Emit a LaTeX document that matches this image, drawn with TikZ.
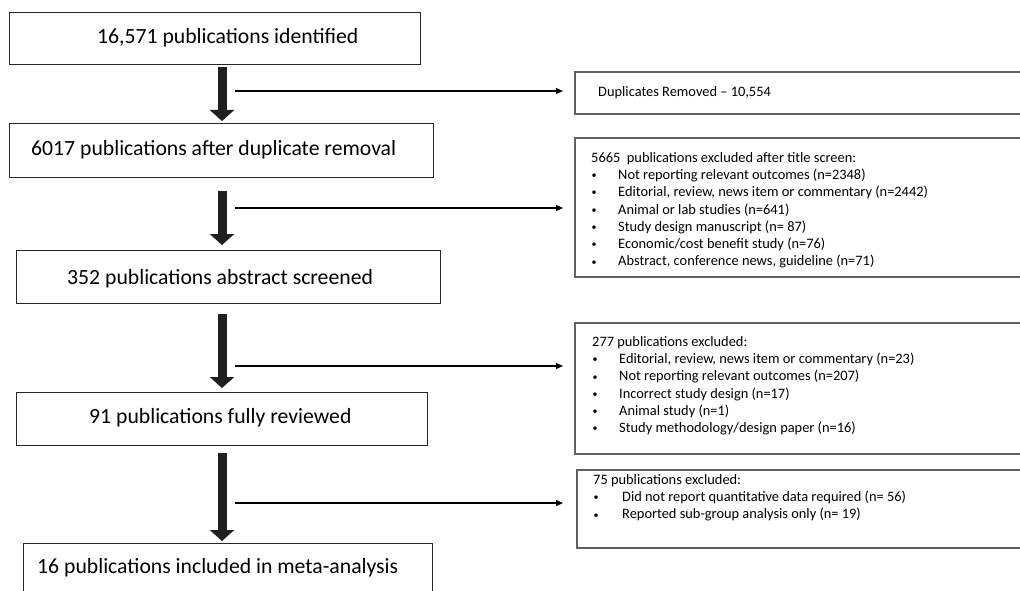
\documentclass[tikz,border=0pt]{standalone}
\usepackage{fontspec}
\setmainfont{Carlito}
\usetikzlibrary{arrows.meta}
\begin{document}
\begin{tikzpicture}[x=1pt,y=-1pt,
 mainbox/.style={draw=black!85, line width=1pt, rectangle, inner sep=0pt, anchor=north west},
 sidebox/.style={draw=black!62, line width=1.6pt, rectangle, inner sep=0pt, anchor=north west},
 maintext/.style={anchor=west, inner sep=0pt, font=\fontsize{21.7}{26}\selectfont},
 sidetext/.style={anchor=north west, inner sep=0pt, align=left, font=\fontsize{14.4}{17.3}\selectfont},
 bigarrow/.style={draw=black!88, line width=9pt, -{Triangle[width=24pt,length=11pt]}},
 thinarrow/.style={draw=black, line width=1.1pt, -{Triangle[width=6pt,length=7pt]}}
]
\clip (0,0) rectangle (1020,591);
\fill[white] (0,0) rectangle (1020,591);
\newcommand{\bl}[1]{\makebox[27pt][l]{\hspace{0.5pt}\raisebox{0.8pt}{\scalebox{0.7}{\textbullet}}}#1}
% main boxes
\node[mainbox, minimum width=411pt, minimum height=52pt] (b1) at (9,12) {};
\node[mainbox, minimum width=424pt, minimum height=54pt] (b2) at (9,123) {};
\node[mainbox, minimum width=424pt, minimum height=53pt] (b3) at (16,250) {};
\node[mainbox, minimum width=411pt, minimum height=53pt] (b4) at (16,392) {};
\node[mainbox, minimum width=409pt, minimum height=70pt] (b5) at (23,543) {};
\node[maintext] (t1) at (97,38) {16,571 publications identified};
\node[maintext] (t2) at (31,150) {6017 publications after duplicate removal};
\node[maintext] (t3) at (67,279) {352 publications abstract screened};
\node[maintext] (t4) at (89,418) {91 publications fully reviewed};
\node[maintext] (t5) at (37,568) {16 publications included in meta-analysis};
% side boxes
\node[sidebox, minimum width=460pt, minimum height=42pt] (s1) at (574,71) {};
\node[sidebox, minimum width=460pt, minimum height=139pt] (s2) at (574,137) {};
\node[sidebox, minimum width=460pt, minimum height=131pt] (s3) at (574,322) {};
\node[sidebox, minimum width=460pt, minimum height=78pt] (s4) at (576,469) {};
\node[sidetext, anchor=west] (u1) at (598,93) {Duplicates Removed -- 10,554};
\node[sidetext] (u2) at (591,152) {5665~ publications excluded after title screen:\\
\bl{Not reporting relevant outcomes (n=2348)}\\
\bl{Editorial, review, news item or commentary (n=2442)}\\
\bl{Animal or lab studies (n=641)}\\
\bl{Study design manuscript (n= 87)}\\
\bl{Economic/cost benefit study (n=76)}\\
\bl{Abstract, conference news, guideline (n=71)}};
\node[sidetext] (u3) at (592,336) {277 publications excluded:\\
\bl{Editorial, review, news item or commentary (n=23)}\\
\bl{Not reporting relevant outcomes (n=207)}\\
\bl{Incorrect study design (n=17)}\\
\bl{Animal study (n=1)}\\
\bl{Study methodology/design paper (n=16)}};
\node[sidetext] (u4) at (593,474) {75 publications excluded:\\
\bl{\hspace{2pt}Did not report quantitative data required (n= 56)}\\
\bl{\hspace{2pt}Reported sub-group analysis only (n= 19)}};
% big arrows
\coordinate (ax) at (222,0);
\draw[bigarrow] ([yshift=-2pt]b1.south -| ax) -- ([yshift=2pt]b2.north -| ax);
\draw[bigarrow] ([yshift=-13pt]b2.south -| ax) -- ([yshift=5pt]b3.north -| ax);
\draw[bigarrow] ([yshift=-10pt]b3.south -| ax) -- ([yshift=4pt]b4.north -| ax);
\draw[bigarrow] ([yshift=-7pt]b4.south -| ax) -- ([yshift=2pt]b5.north -| ax);
% thin arrows
\coordinate (c1) at (235,91);
\coordinate (c2) at (235,208);
\coordinate (c3) at (235,366);
\coordinate (c4) at (235,503);
\draw[thinarrow, shorten >=11pt] (c1) -- (c1 -| s1.west);
\draw[thinarrow, shorten >=11pt] (c2) -- (c2 -| s2.west);
\draw[thinarrow, shorten >=11pt] (c3) -- (c3 -| s3.west);
\draw[thinarrow, shorten >=13pt] (c4) -- (c4 -| s4.west);
\end{tikzpicture}
\end{document}
